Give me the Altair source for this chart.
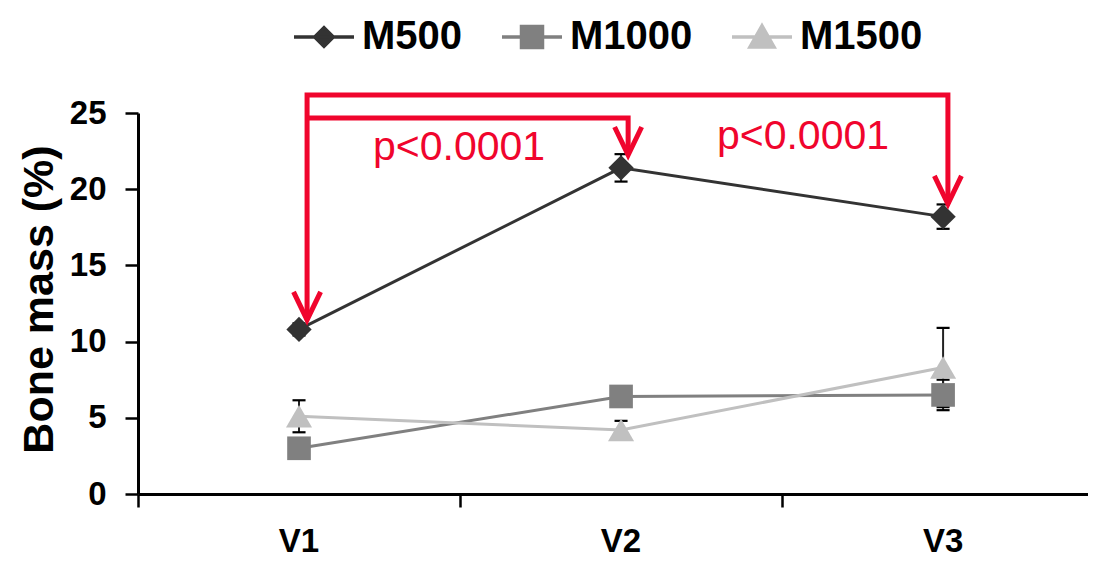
import altair as alt
import pandas as pd

# ---------------- data ----------------
visits = ["V1", "V2", "V3"]
visit_x = [1, 2, 3]
series = ["M500", "M1000", "M1500"]
m500 = [10.8, 21.4, 18.2]
m1000 = [3.0, 6.4, 6.5]
m1500 = [5.1, 4.2, 8.3]
m500_sd = [0.4, 0.9, 0.8]
m1000_sd = [0.4, 0.4, 1.0]
m1500_sd = [1.05, 0.6, 2.6]

colors = ["#333333", "#808080", "#c0c0c0"]
marker_shapes = ["diamond", "square", "triangle-up"]
marker_sizes = [640, 560, 680]
legend_shapes = [
    "M-1,0H1M0,-0.31L0.31,0L0,0.31L-0.31,0Z",
    "M-1,0H1M-0.35,-0.35H0.35V0.35H-0.35Z",
    "M-1,0H1M0,-0.37L0.4,0.33H-0.4Z",
]

# significance annotation (data units: x = visit position, y = bone mass %)
bracket_x = [1.025, 1.025, 3.015, 3.015]
bracket_y = [11.42, 26.18, 26.18, 19.03]
inner_x = [1.025, 2.022, 2.022]
inner_y = [24.67, 24.67, 22.24]
arrow_tip_x = [1.025, 2.022, 3.015]
arrow_tip_y = [11.42, 22.24, 19.03]
arrow_dx = 0.042
arrow_dy = 1.84
p_labels = ["p<0.0001", "p<0.0001"]
p_x = [1.497, 2.565]
p_y = [22.7, 23.4]

RED = "#F0052D"
FONT = "Liberation Sans"

# ---------------- tables ----------------
rows = []
for s, vals, sds in zip(series, [m500, m1000, m1500], [m500_sd, m1000_sd, m1500_sd]):
    for v, xv, val, sd in zip(visits, visit_x, vals, sds):
        rows.append(dict(series=s, visit=v, x=xv, value=val, lo=val - sd, hi=val + sd))
df = pd.DataFrame(rows)

caps = pd.concat([
    df[["series", "x", "lo"]].rename(columns={"lo": "value"}),
    df[["series", "x", "hi"]].rename(columns={"hi": "value"}),
])

ann_rows = []
for i, (xv, yv) in enumerate(zip(bracket_x, bracket_y)):
    ann_rows.append(dict(seg="outer", ord=i, x=xv, value=yv))
for i, (xv, yv) in enumerate(zip(inner_x, inner_y)):
    ann_rows.append(dict(seg="inner", ord=i, x=xv, value=yv))
for k, (tx, ty) in enumerate(zip(arrow_tip_x, arrow_tip_y)):
    ann_rows.append(dict(seg=f"head{k}", ord=0, x=tx - arrow_dx, value=ty + arrow_dy))
    ann_rows.append(dict(seg=f"head{k}", ord=1, x=tx, value=ty))
    ann_rows.append(dict(seg=f"head{k}", ord=2, x=tx + arrow_dx, value=ty + arrow_dy))
ann = pd.DataFrame(ann_rows)

ptext = pd.DataFrame(dict(label=p_labels, x=p_x, value=p_y))
vlab = pd.DataFrame(dict(visit=visits, x=visit_x))

# ---------------- encodings ----------------
xscale = alt.Scale(domain=[0.5, 3.45], nice=False, zero=False)
yscale = alt.Scale(domain=[0, 25], nice=False)

x_axis = alt.Axis(values=[0.5, 1.5, 2.5], labels=False, title=None, grid=False,
                  tickSize=13, tickWidth=2.5, tickColor="black",
                  domainWidth=3, domainColor="black")
y_axis = alt.Axis(values=[0, 5, 10, 15, 20, 25], title="Bone mass (%)", grid=False,
                  tickSize=13, tickWidth=2.5, tickColor="black",
                  domainWidth=3, domainColor="black",
                  labelFont=FONT, labelFontWeight="bold", labelFontSize=33,
                  labelColor="black", labelPadding=19,
                  titleFont=FONT, titleFontWeight="bold", titleFontSize=43,
                  titleColor="black", titleX=-86, titleY=186,
                  titleBaseline="alphabetic", titleAngle=270, titleAlign="center")


def X(field="x"):
    return alt.X(f"{field}:Q", scale=xscale, axis=x_axis)


def Y(field="value"):
    return alt.Y(f"{field}:Q", scale=yscale, axis=y_axis)


err_rule = alt.Chart(df).mark_rule(color="#222222", strokeWidth=2).encode(
    x=X(), y=Y("lo"), y2="hi:Q"
)
err_caps = alt.Chart(caps).mark_point(
    shape="M-1,0H1", size=170, stroke="black", strokeWidth=2.2, filled=False, opacity=1
).encode(x=X(), y=Y())

line_layers = []
marker_layers = []
for s, c, shp, sz in zip(series, colors, marker_shapes, marker_sizes):
    sub = alt.Chart(df).transform_filter(alt.datum.series == s)
    line_layers.append(sub.mark_line(strokeWidth=3, color=c).encode(x=X(), y=Y()))
    marker_layers.append(
        sub.mark_point(filled=True, opacity=1, size=sz, shape=shp, color=c)
        .encode(x=X(), y=Y())
    )

leg = alt.Legend(orient="none", legendX=154, legendY=-108, direction="horizontal",
                 title=None, labelFont=FONT, labelFontWeight="bold", labelFontSize=40,
                 labelColor="black", symbolSize=3600, symbolStrokeWidth=3.5,
                 symbolOpacity=1, symbolFillColor="black", symbolStrokeColor="black",
                 labelOffset=6, columnPadding=32, padding=0, labelLimit=0)
# legend-only layer: no visible marks, just provides the legend
legend_layer = alt.Chart(df).transform_filter(alt.datum.x < 0).mark_point(
    filled=True, size=0
).encode(
    x=X(), y=Y(),
    shape=alt.Shape("series:N", scale=alt.Scale(domain=series, range=legend_shapes), legend=leg),
    fill=alt.Fill("series:N", scale=alt.Scale(domain=series, range=colors), legend=leg),
    stroke=alt.Stroke("series:N", scale=alt.Scale(domain=series, range=colors), legend=leg),
)

ann_lines = alt.Chart(ann).mark_line(
    color=RED, strokeWidth=5, strokeJoin="miter", strokeCap="butt"
).encode(x=X(), y=Y(), detail="seg:N", order="ord:Q")

ann_text = alt.Chart(ptext).mark_text(
    color=RED, font=FONT, fontSize=41, align="center", baseline="middle"
).encode(x=X(), y=Y(), text="label:N")

visit_labels = alt.Chart(vlab).mark_text(
    color="black", font=FONT, fontSize=33, fontWeight="bold",
    align="center", baseline="alphabetic"
).encode(x=X(), y=alt.value(439), text="visit:N")

chart = alt.layer(
    err_rule, err_caps, *line_layers, *marker_layers, legend_layer,
    ann_lines, ann_text, visit_labels
).properties(
    width=950, height=381,
    padding={"left": 130, "top": 105, "right": 0, "bottom": 66},
    autosize=alt.AutoSizeParams(type="none"),
).configure_view(stroke=None)

chart.save("out.html", embed_options={"renderer": "svg", "actions": False})
